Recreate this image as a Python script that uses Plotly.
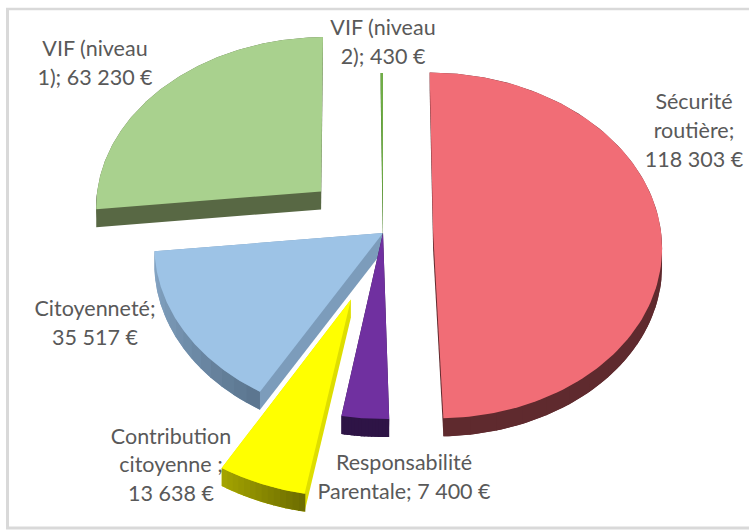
import numpy as np
import plotly.graph_objects as go

# ---- data ----
categories = ["Sécurité routière", "Responsabilité Parentale", "Contribution citoyenne",
              "Citoyenneté", "VIF (niveau 1)", "VIF (niveau 2)"]
values = [118303, 7400, 13638, 35517, 63230, 430]
label_lines = [
    ["Sécurité", "routière;", "{v} €"],
    ["Responsabilité", "Parentale; {v} €"],
    ["Contribution", "citoyenne ;", "{v} €"],
    ["Citoyenneté;", "{v} €"],
    ["VIF (niveau", "1); {v} €"],
    ["VIF (niveau", "2); {v} €"],
]

# ---- style ----
explode = [0.22, 0.0, 0.40, 0.0, 0.37, 0.0]
top_col = ["#F16D76", "#7030A0", "#FFFF00", "#9DC3E6", "#A9D18E", "#70AD47"]
side_col = ["#5F2A2E", "#2E1446", "#DEDE00", "#7C9CBB", "#586844", "#4A7A2E"]
rim_from = ["#5F2A2E", "#2E1446", "#6E6E00", "#5C7690", "#586844", "#4A7A2E"]
rim_to = ["#5F2A2E", "#2E1446", "#A3A300", "#86A7C6", "#586844", "#4A7A2E"]
label_x = [694, 404, 171, 95, 95, 383]
label_y = [[104, 133, 162], [465, 494], [439, 467, 496], [311, 340], [51, 80], [30, 59]]
draw_order = [3, 4, 5, 1, 2, 0]
CX, CY, RX, RY, PERSP, DEPTH = 383, 233, 228, 172, 0.075, 18
TEXT = "#595959"


def project(u, v):
    k = 1 / (1 + PERSP * v)
    return CX + RX * u * k, CY - RY * v * k


def hull(pts):
    pts = sorted(set(pts))
    def half(seq):
        out = []
        for p in seq:
            while len(out) > 1 and ((out[-1][0]-out[-2][0])*(p[1]-out[-2][1])
                                    - (out[-1][1]-out[-2][1])*(p[0]-out[-2][0])) <= 0:
                out.pop()
            out.append(p)
        return out[:-1]
    return half(pts) + half(pts[::-1])


def mix(a, b, t):
    ca = [int(a[i:i+2], 16) for i in (1, 3, 5)]
    cb = [int(b[i:i+2], 16) for i in (1, 3, 5)]
    return "rgb(%d,%d,%d)" % tuple(round(x + (y - x) * t) for x, y in zip(ca, cb))


def poly(x, y, color, name):
    return go.Scatter(x=list(x), y=list(y), mode="lines", fill="toself", fillcolor=color,
                      line=dict(width=0), name=name, hoverinfo="name", showlegend=False)


fractions = np.array(values) / sum(values)
ends = np.cumsum(fractions) * 2 * np.pi
starts = ends - fractions * 2 * np.pi

fig = go.Figure()
for i in draw_order:
    a0, a1 = starts[i], ends[i]
    mid = (a0 + a1) / 2
    ou, ov = explode[i] * np.sin(mid), explode[i] * np.cos(mid)
    th = np.linspace(a0, a1, 121)
    ax, ay = project(ou + np.sin(th), ov + np.cos(th))
    ox, oy = project(ou, ov)
    px = np.r_[ox, ax]
    py = np.r_[oy, ay]
    # body: hull of the top face and the same face dropped by the depth
    h = hull([(float(a), float(b)) for a, b in zip(px, py)]
             + [(float(a), float(b + DEPTH)) for a, b in zip(px, py)])
    fig.add_trace(poly([p[0] for p in h] + [h[0][0]], [p[1] for p in h] + [h[0][1]],
                       side_col[i], categories[i]))
    # rim bands, shaded along the arc where the rim faces the viewer
    lo, hi = max(a0, np.pi / 2), min(a1, 3 * np.pi / 2)
    if hi > lo:
        edges = np.linspace(lo, hi, 15)
        for j in range(len(edges) - 1):
            t = np.linspace(edges[j], edges[j + 1] + 0.004, 6)
            t = np.minimum(t, hi)
            bx, by = project(ou + np.sin(t), ov + np.cos(t))
            fig.add_trace(poly(np.r_[bx, bx[::-1]], np.r_[by, by[::-1] + DEPTH],
                               mix(rim_from[i], rim_to[i], j / 13), categories[i]))
    fig.add_trace(poly(np.r_[px, ox], np.r_[py, oy], top_col[i], categories[i]))

for i, lines in enumerate(label_lines):
    shown = f"{values[i]:,}".replace(",", "\u00a0")
    fig.add_trace(go.Scatter(
        x=[label_x[i]] * len(lines), y=label_y[i],
        text=[s.replace("{v}", shown) for s in lines],
        mode="text", textposition="middle center",
        textfont=dict(family="Lato, Carlito, sans-serif", size=21.5, color=TEXT),
        hoverinfo="skip", showlegend=False))

border = "#D9D9D9"
fig.update_layout(
    width=749, height=530, margin=dict(l=0, r=0, t=0, b=0),
    paper_bgcolor="white", plot_bgcolor="white", showlegend=False,
    xaxis=dict(range=[0, 749], visible=False, fixedrange=True),
    yaxis=dict(range=[530, 0], visible=False, fixedrange=True),
    shapes=[
        dict(type="line", x0=7.5, x1=7.5, y0=9, y1=528, line=dict(color=border, width=3), layer="below"),
        dict(type="line", x0=6, x1=749, y0=9, y1=9, line=dict(color=border, width=2.5), layer="below"),
        dict(type="line", x0=6, x1=749, y0=528, y1=528, line=dict(color=border, width=3), layer="below"),
    ],
)
page_fix = ("document.documentElement.style.overflow='hidden';"
            "document.body.style.margin='0';"
            "var s=document.createElement('style');"
            "s.textContent='text{font-variant-ligatures:none}';"
            "document.head.appendChild(s);")
fig.write_html("out.html", config=dict(displayModeBar=False), post_script=page_fix)
